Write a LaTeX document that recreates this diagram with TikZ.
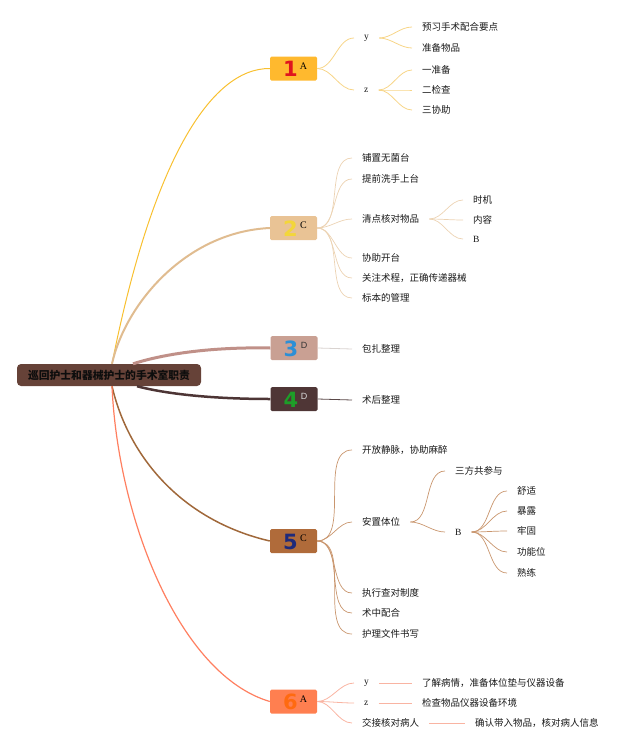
\documentclass[tikz,border=0pt]{standalone}
\usepackage{fontspec}
\newfontfamily\cjk{Noto Sans CJK SC}
\newfontfamily\serifl{Liberation Serif}
\newfontfamily\sansl{Liberation Sans}
\newfontfamily\digitf{DejaVu Sans}
\usetikzlibrary{calc}
\definecolor{rootc}{RGB}{102,66,56}
\definecolor{f1}{RGB}{255,185,46}
\definecolor{f2}{RGB}{233,195,149}
\definecolor{f3}{RGB}{201,160,147}
\definecolor{f4}{RGB}{79,54,54}
\definecolor{f5}{RGB}{176,107,58}
\definecolor{f6}{RGB}{255,127,80}
\definecolor{d1}{RGB}{224,20,30}
\definecolor{d2}{RGB}{243,214,58}
\definecolor{d3}{RGB}{44,143,214}
\definecolor{d4}{RGB}{29,158,40}
\definecolor{d5}{RGB}{31,42,122}
\definecolor{d6}{RGB}{255,106,16}
\definecolor{l1}{RGB}{247,213,136}
\definecolor{l2}{RGB}{236,211,179}
\definecolor{l3}{RGB}{217,211,208}
\definecolor{l4}{RGB}{90,72,72}
\definecolor{l5}{RGB}{201,150,110}
\definecolor{l6}{RGB}{249,180,162}
\definecolor{r1}{RGB}{248,192,48}
\definecolor{r2}{RGB}{224,188,144}
\definecolor{r3}{RGB}{192,144,136}
\definecolor{r4}{RGB}{77,53,53}
\definecolor{r5}{RGB}{160,104,58}
\definecolor{r6}{RGB}{255,127,96}
\tikzset{
  rootbox/.style={draw=none, fill=rootc, rounded corners=4pt, minimum width=184pt, minimum height=22pt, inner sep=0pt, text=black!95, font=\cjk\bfseries\fontsize{10.8}{12}\selectfont},
  numbox/.style={draw=none, rounded corners=1.5pt, minimum width=47pt, minimum height=24pt, inner sep=0pt},
  digit/.style={inner sep=0pt, font=\digitf\bfseries\fontsize{21}{22}\selectfont},
  letr/.style={inner sep=0pt, font=\serifl\fontsize{10}{11}\selectfont, text=black},
  lets/.style={inner sep=0pt, font=\sansl\fontsize{9}{10}\selectfont},
  leaf/.style={anchor=west, inner xsep=10pt, inner ysep=2pt, font=\cjk\fontsize{9.5}{11}\selectfont, text=black!90},
  leafr/.style={leaf, font=\serifl\fontsize{9.5}{11}\selectfont},
  cv/.style={out=0, in=180, looseness=0.9},
}
\begin{document}
\begin{tikzpicture}[x=1pt,y=-1pt]
\useasboundingbox (0,0) rectangle (640,750);
% root
\node[rootbox] (root) at (109,375) {巡回护士和器械护士的手术室职责};
\coordinate (rt) at ($(root.north)+(3,0)$);
\coordinate (rb) at ($(root.south)+(3,0)$);
\coordinate (r3) at ($(root.north)+(24,0)$);
\coordinate (r4) at ($(root.south)+(28,0)$);
% numbered nodes
\node[numbox, fill=f1] (n1) at (293.5,68.5) {};
\node[numbox, fill=f2] (n2) at (293.5,228) {};
\node[numbox, fill=f3] (n3) at (294,348) {};
\node[numbox, fill=f4] (n4) at (294,399) {};
\node[numbox, fill=f5] (n5) at (293.5,541) {};
\node[numbox, fill=f6] (n6) at (293.5,701.5) {};
\node[digit, text=d1] (n1d) at ($(n1.center)+(-3,0.5)$) {1};
\node[letr] (n1l) at ($(n1.center)+(10,-2.5)$) {A};
\node[digit, text=d2] (n2d) at ($(n2.center)+(-3,0.5)$) {2};
\node[letr] (n2l) at ($(n2.center)+(10,-2.5)$) {C};
\node[digit, text=d3] (n3d) at ($(n3.center)+(-3,0.5)$) {3};
\node[lets, text=black!80] (n3l) at ($(n3.center)+(10,-3)$) {D};
\node[digit, text=d4] (n4d) at ($(n4.center)+(-3,0.5)$) {4};
\node[lets, text=white!85!black] (n4l) at ($(n4.center)+(10,-3)$) {D};
\node[digit, text=d5] (n5d) at ($(n5.center)+(-3,0.5)$) {5};
\node[letr] (n5l) at ($(n5.center)+(10,-2.5)$) {C};
\node[digit, text=d6] (n6d) at ($(n6.center)+(-3,0.5)$) {6};
\node[letr] (n6l) at ($(n6.center)+(10,-2.5)$) {A};
% root connectors
\draw[r1, line width=1pt] (rt) .. controls (152,163) and (210,68) .. (n1.west);
\draw[r2, line width=2pt] (rt) .. controls (125,305) and (185,232) .. (n2.west);
\draw[r3, line width=3pt] (r3) .. controls (170,352) and (220,347) .. (n3.west);
\draw[r4, line width=2.5pt] (r4) .. controls (170,395) and (220,399) .. (n4.west);
\draw[r5, line width=1.5pt] (rb) .. controls (128,455) and (180,520) .. (n5.west);
\draw[r6, line width=1.2pt] (rb) .. controls (118,520) and (180,675) .. (n6.west);
% branch 1
\node[leafr] (y1) at (354,38) {y};
\node[leafr] (z1) at (354,90) {z};
\node[leaf] (a11) at (412,27) {预习手术配合要点};
\node[leaf] (a12) at (412,48) {准备物品};
\node[leaf] (a21) at (412,70) {一准备};
\node[leaf] (a22) at (412,90) {二检查};
\node[leaf] (a23) at (412,110) {三协助};
\begin{scope}[l1, line width=0.8pt]
\draw (n1.east) to[cv] (y1.west);
\draw (n1.east) to[cv] (z1.west);
\draw (y1.east) to[cv] (a11.west);
\draw (y1.east) to[cv] (a12.west);
\draw (z1.east) to[cv] (a21.west);
\draw (z1.east) to[cv] (a22.west);
\draw (z1.east) to[cv] (a23.west);
\end{scope}
% branch 2
\node[leaf] (b1) at (352,158) {铺置无菌台};
\node[leaf] (b2) at (352,179) {提前洗手上台};
\node[leaf] (b3) at (352,219) {清点核对物品};
\node[leaf] (b4) at (352,258) {协助开台};
\node[leaf] (b5) at (352,278) {关注术程，正确传递器械};
\node[leaf] (b6) at (352,298) {标本的管理};
\node[leaf] (b31) at (463,200) {时机};
\node[leaf] (b32) at (463,220) {内容};
\node[leafr] (b33) at (463,239) {B};
\begin{scope}[l2, line width=0.7pt]
\draw (n2.east) to[cv] (b1.west);
\draw (n2.east) to[cv] (b2.west);
\draw (n2.east) to[cv] (b3.west);
\draw (n2.east) to[cv] (b4.west);
\draw (n2.east) to[cv] (b5.west);
\draw (n2.east) to[cv] (b6.west);
\draw (b3.east) to[cv] (b31.west);
\draw (b3.east) to[cv] (b32.west);
\draw (b3.east) to[cv] (b33.west);
\end{scope}
% branch 3 and 4
\node[leaf] (c1) at (352,349) {包扎整理};
\draw[l3, line width=0.8pt] (n3.east) -- (c1.west);
\node[leaf] (e1) at (352,400) {术后整理};
\draw[l4, line width=0.8pt] (n4.east) -- (e1.west);
% branch 5
\node[leaf] (f1n) at (352,450) {开放静脉，协助麻醉};
\node[leaf] (f2n) at (352,522) {安置体位};
\node[leaf] (f3n) at (352,593) {执行查对制度};
\node[leaf] (f4n) at (352,613) {术中配合};
\node[leaf] (f5n) at (352,634) {护理文件书写};
\node[leaf] (g1) at (445,471) {三方共参与};
\node[leafr] (g2) at (445,532) {B};
\node[leaf] (h1) at (507,491) {舒适};
\node[leaf] (h2) at (507,511) {暴露};
\node[leaf] (h3) at (507,531) {牢固};
\node[leaf] (h4) at (507,552) {功能位};
\node[leaf] (h5) at (507,573) {熟练};
\begin{scope}[l5, line width=0.7pt]
\draw (n5.east) to[cv] (f1n.west);
\draw (n5.east) to[cv] (f2n.west);
\draw (n5.east) to[cv] (f3n.west);
\draw (n5.east) to[cv] (f4n.west);
\draw (n5.east) to[cv] (f5n.west);
\draw (f2n.east) to[cv] (g1.west);
\draw (f2n.east) to[cv] (g2.west);
\draw (g2.east) to[cv] (h1.west);
\draw (g2.east) to[cv] (h2.west);
\draw (g2.east) to[cv] (h3.west);
\draw (g2.east) to[cv] (h4.west);
\draw (g2.east) to[cv] (h5.west);
\end{scope}
% branch 6
\node[leafr] (y6) at (354,683) {y};
\node[leafr] (z6) at (354,703) {z};
\node[leaf] (k6) at (352,723) {交接核对病人};
\node[leaf] (m1) at (412,683) {了解病情，准备体位垫与仪器设备};
\node[leaf] (m2) at (412,703) {检查物品仪器设备环境};
\node[leaf] (m3) at (465,723) {确认带入物品，核对病人信息};
\begin{scope}[l6, line width=0.8pt]
\draw (n6.east) to[cv] (y6.west);
\draw (n6.east) to[cv] (z6.west);
\draw (n6.east) to[cv] (k6.west);
\draw (y6.east) -- (m1.west);
\draw (z6.east) -- (m2.west);
\draw (k6.east) -- (m3.west);
\end{scope}
\end{tikzpicture}
\end{document}
